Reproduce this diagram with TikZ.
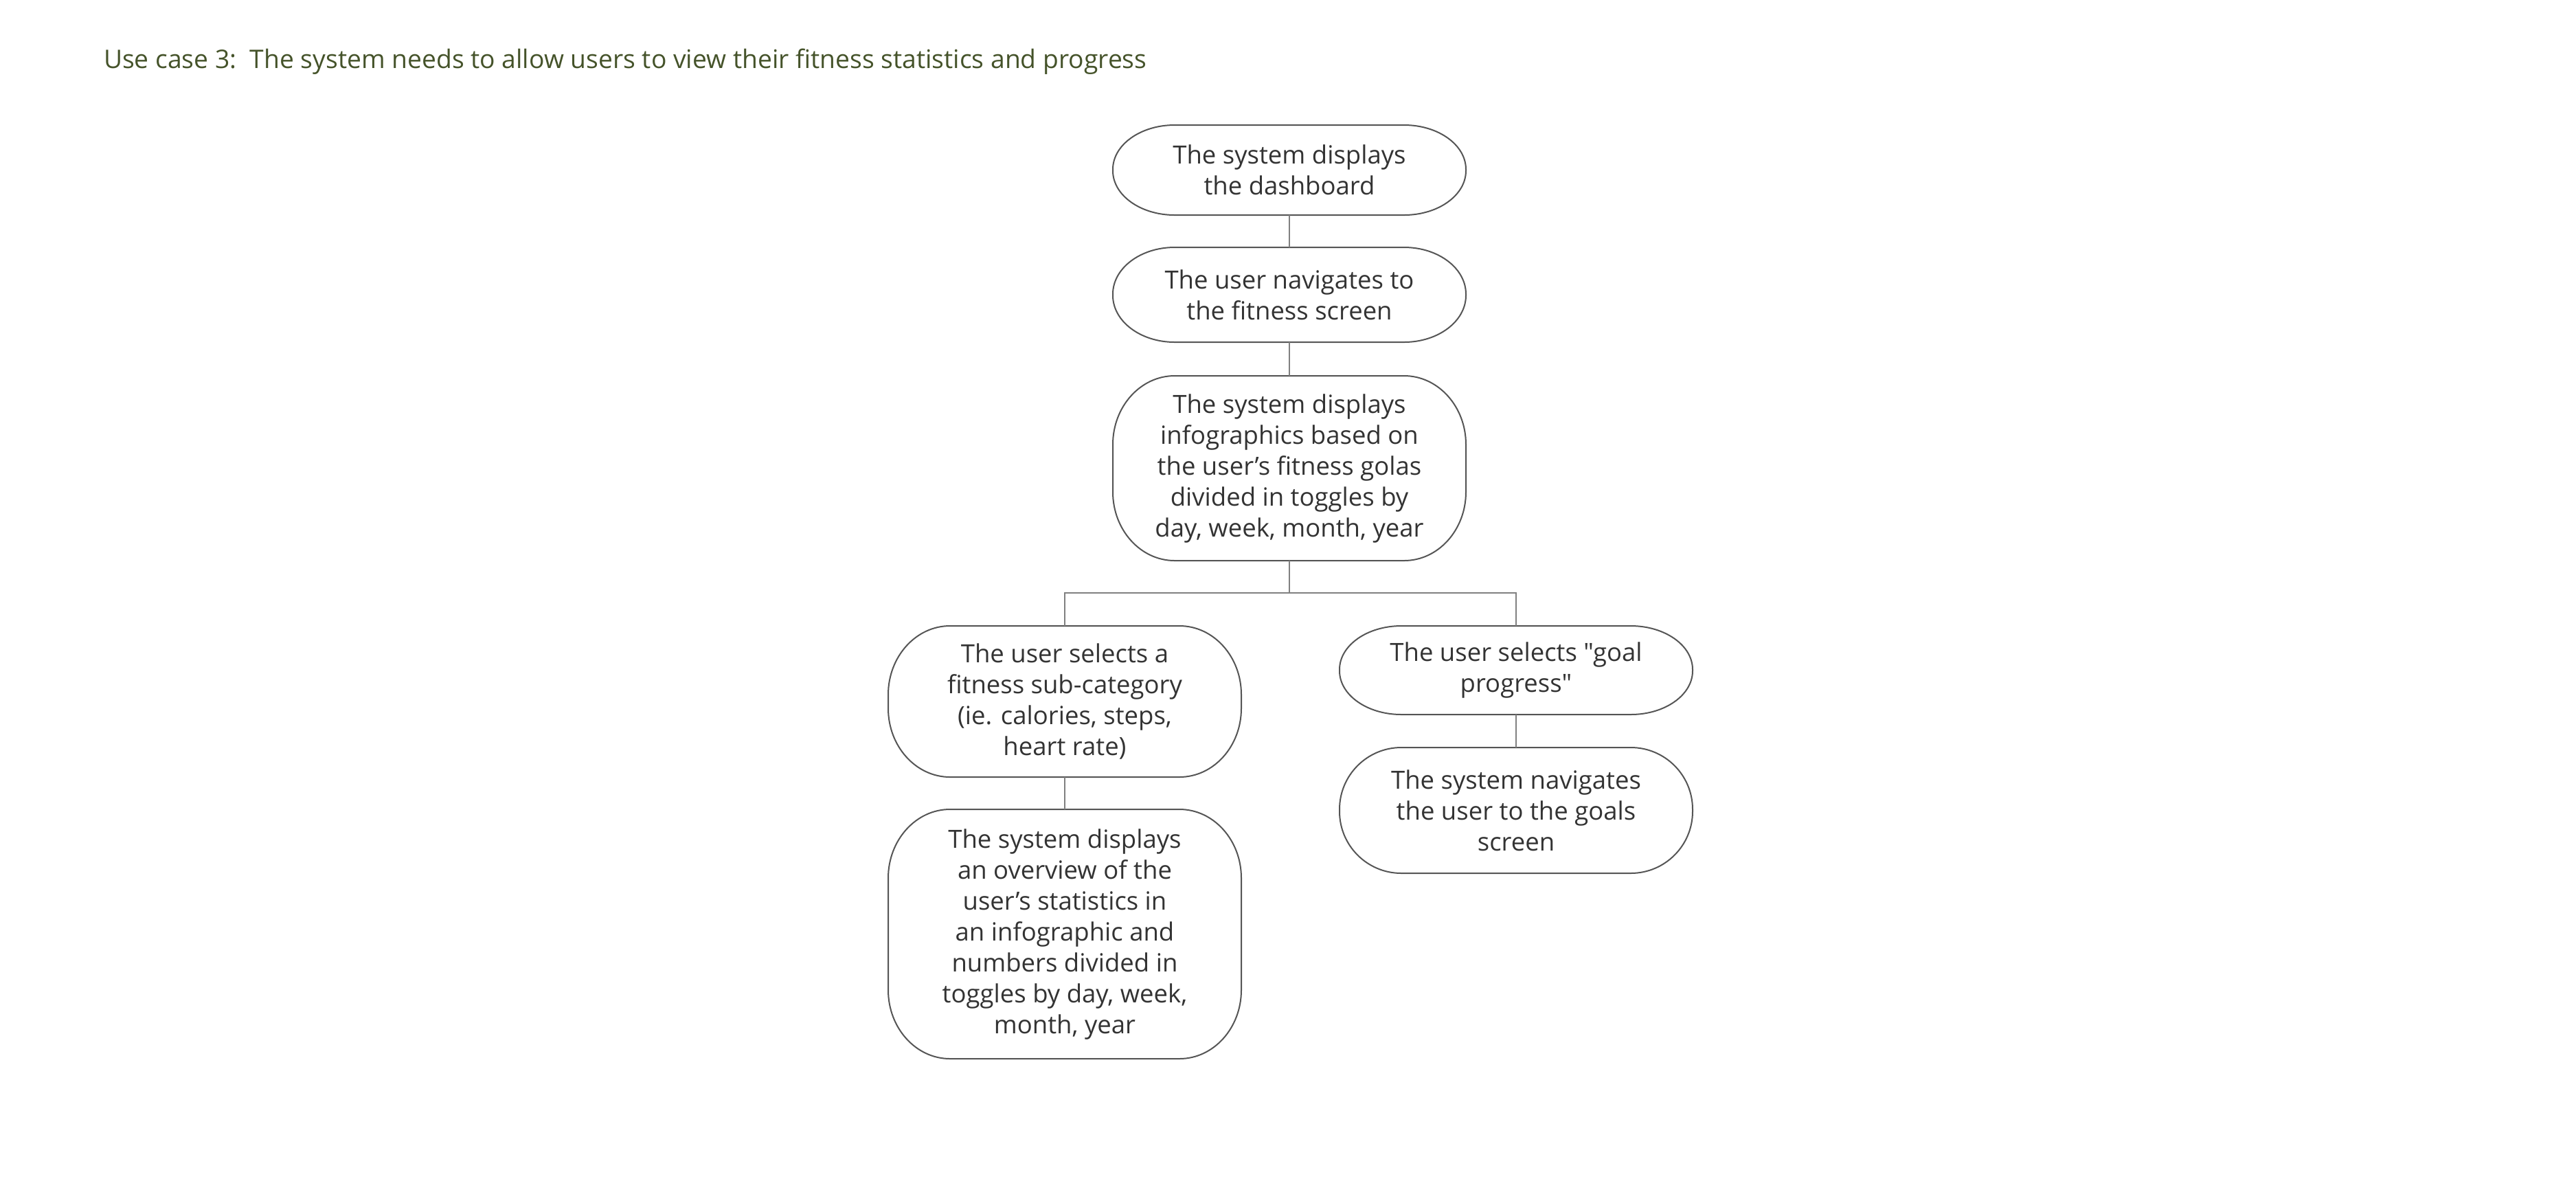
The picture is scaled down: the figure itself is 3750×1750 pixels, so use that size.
\documentclass[tikz,border=0pt]{standalone}
\usepackage{fontspec}
\setmainfont{Open Sans}[Ligatures=TeXOff]
\definecolor{titlecol}{HTML}{45532A}
\definecolor{txtcol}{HTML}{333333}
\definecolor{boxcol}{HTML}{555555}
\definecolor{linkcol}{HTML}{808080}
\newcommand{\pillbox}[3]{%
  \draw[boxline] ([xshift=#2]#1.north west) -- ([xshift=-#2]#1.north east)
    arc[start angle=90,end angle=0,x radius=#2,y radius=#3]
    -- ([yshift=#3]#1.south east)
    arc[start angle=0,end angle=-90,x radius=#2,y radius=#3]
    -- ([xshift=#2]#1.south west)
    arc[start angle=270,end angle=180,x radius=#2,y radius=#3]
    -- ([yshift=-#3]#1.north west)
    arc[start angle=180,end angle=90,x radius=#2,y radius=#3] -- cycle;}
\tikzset{
  boxline/.style={draw=boxcol, line width=0.4pt},
  link/.style={draw=linkcol, line width=0.45pt},
  stepbox/.style={inner sep=0pt, minimum width=102.4pt, align=center,
    font=\fontsize{7.3pt}{9pt}\selectfont, text=txtcol},
  titletext/.style={inner sep=0pt, anchor=base west,
    font=\fontsize{7.45pt}{9pt}\selectfont, text=titlecol}
}
\begin{document}
\begin{tikzpicture}[x=0.2pt,y=-0.2pt]
\useasboundingbox (0,0) rectangle (3750,1750);
\node[titletext] (title) at (150,99) {Use case 3:\ \ The system needs to allow users to view their fitness statistics and progress};

\node[stepbox, minimum height=25.8pt] (n1) at (1877,247.5) {The system displays\\the dashboard};
\node[stepbox, minimum height=27.2pt] (n2) at (1877,429) {The user navigates to\\the fitness screen};
\node[stepbox, minimum height=53.4pt] (n3) at (1877,681.5) {The system displays\\infographics based on\\the user’s fitness golas\\divided in toggles by\\day, week, month, year};
\node[stepbox, minimum height=43.6pt] (n4) at (1550,1021) {The user selects a\\fitness sub-category\\(ie. calories, steps,\\heart rate)};
\node[stepbox, minimum height=25.4pt] (n5) at (2207,975.5) {The user selects "goal\\progress"};
\node[stepbox, minimum height=72.2pt] (n6) at (1550,1359.5) {The system displays\\an overview of the\\user’s statistics in\\an infographic and\\numbers divided in\\toggles by day, week,\\month, year};
\node[stepbox, minimum height=36.2pt] (n7) at (2207,1179.5) {The system navigates\\the user to the goals\\screen};

\pillbox{n1}{18pt}{12.9pt}
\pillbox{n2}{18pt}{13.6pt}
\pillbox{n3}{18pt}{20pt}
\pillbox{n4}{18pt}{20pt}
\pillbox{n5}{18pt}{12.7pt}
\pillbox{n6}{18pt}{20pt}
\pillbox{n7}{18pt}{18pt}

\coordinate (j) at (1877,863);
\draw[link] (n1.south) -- (n2.north);
\draw[link] (n2.south) -- (n3.north);
\draw[link] (n3.south) -- (j);
\draw[link] (n4.north) |- (j) -| (n5.north);
\draw[link] (n4.south) -- (n6.north);
\draw[link] (n5.south) -- (n7.north);
\end{tikzpicture}
\end{document}
